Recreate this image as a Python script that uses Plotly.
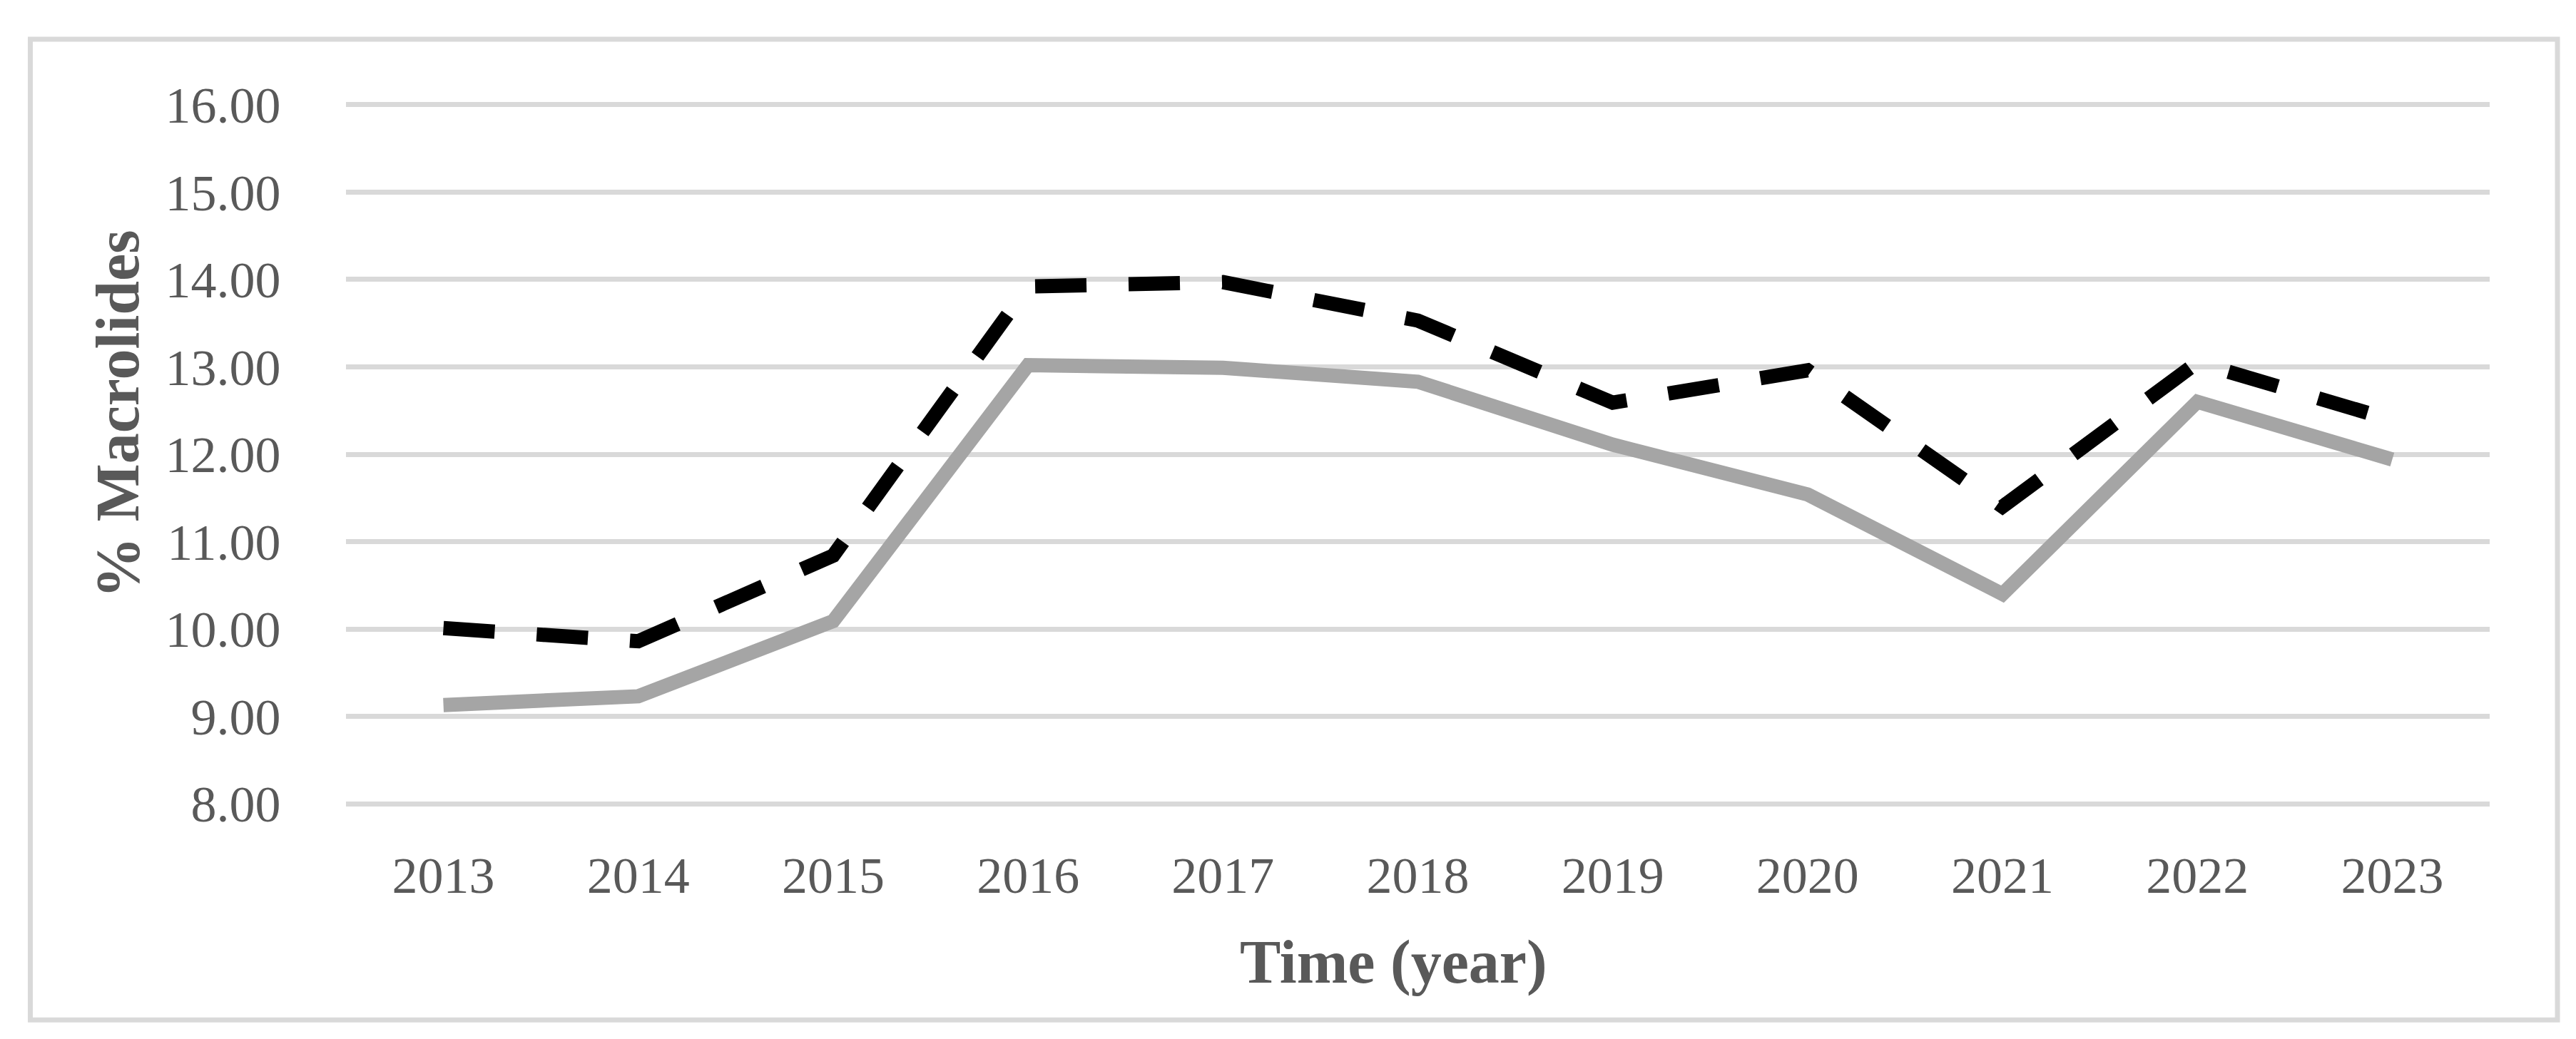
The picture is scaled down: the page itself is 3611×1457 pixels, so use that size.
import plotly.graph_objects as go

# ---- data ----
years = ["2013", "2014", "2015", "2016", "2017", "2018", "2019", "2020", "2021", "2022", "2023"]
series_solid = [9.13, 9.23, 10.09, 13.02, 12.99, 12.83, 12.11, 11.54, 10.40, 12.60, 11.94]
series_dashed = [10.01, 9.86, 10.84, 13.92, 13.97, 13.53, 12.59, 12.96, 11.40, 13.05, 12.39]
y_ticks = [8, 9, 10, 11, 12, 13, 14, 15, 16]
y_ticklabels = [f"{v:.2f}" for v in y_ticks]
x_title = "Time (year)"
y_title = "% Macrolides"

# ---- geometry (pixels) ----
W, H = 3611, 1457
UNIT = 122.5            # pixels per y unit
YPAD = 0.04             # small range padding so edge gridlines are drawn
Y_LO, Y_HI = 8 - YPAD, 16 + YPAD
PL, PR = 477, 3482
PT = 139 - YPAD * UNIT
PB = 1119 + YPAD * UNIT
pw, ph = PR - PL, PB - PT


def px_x(x):
    return (x - PL) / pw


def px_y(y):
    return (PB - y) / ph


FONT = "Liberation Serif, Times New Roman, serif"
TXT = "#595959"
GRID = "#D9D9D9"

fig = go.Figure()
fig.add_trace(go.Scatter(
    x=years, y=series_solid, mode="lines", name="Series 1",
    line=dict(color="#A5A5A5", width=20),
))
fig.add_trace(go.Scatter(
    x=years, y=series_dashed, mode="lines", name="Series 2",
    line=dict(color="#000000", width=20, dash="72px,59px"),
))

fig.update_layout(
    width=W, height=H,
    margin=dict(l=PL, r=W - PR, t=PT, b=H - PB, pad=0),
    paper_bgcolor="white", plot_bgcolor="white",
    showlegend=False,
    font=dict(family=FONT, color=TXT, size=72),
)
fig.update_xaxes(
    type="category", range=[-0.5, len(years) - 0.5],
    showgrid=False, zeroline=False, showline=False,
    ticks="outside", ticklen=33, tickcolor="rgba(0,0,0,0)",
    tickfont=dict(family=FONT, size=72, color=TXT),
)
fig.update_yaxes(
    range=[Y_LO, Y_HI], tickvals=y_ticks, ticktext=y_ticklabels,
    showgrid=True, gridcolor=GRID, gridwidth=7,
    zeroline=False, showline=False,
    ticks="outside", ticklen=76, tickcolor="rgba(0,0,0,0)",
    tickfont=dict(family=FONT, size=72, color=TXT),
)

fig.add_annotation(
    text=f"<b>{y_title}</b>", textangle=-90, showarrow=False,
    xref="paper", yref="paper", x=px_x(157), y=px_y(573),
    xanchor="center", yanchor="middle",
    font=dict(family=FONT, size=86, color=TXT),
)
fig.add_annotation(
    text=f"<b>{x_title}</b>", showarrow=False,
    xref="paper", yref="paper", x=px_x(1945), y=px_y(1341),
    xanchor="center", yanchor="middle",
    font=dict(family=FONT, size=86, color=TXT),
)

fig.add_shape(
    type="rect", xref="paper", yref="paper",
    x0=px_x(34.5), x1=px_x(3577), y0=px_y(1422), y1=px_y(47),
    line=dict(color=GRID, width=7), fillcolor="rgba(0,0,0,0)", layer="below",
)

fig.write_html("out.html")
